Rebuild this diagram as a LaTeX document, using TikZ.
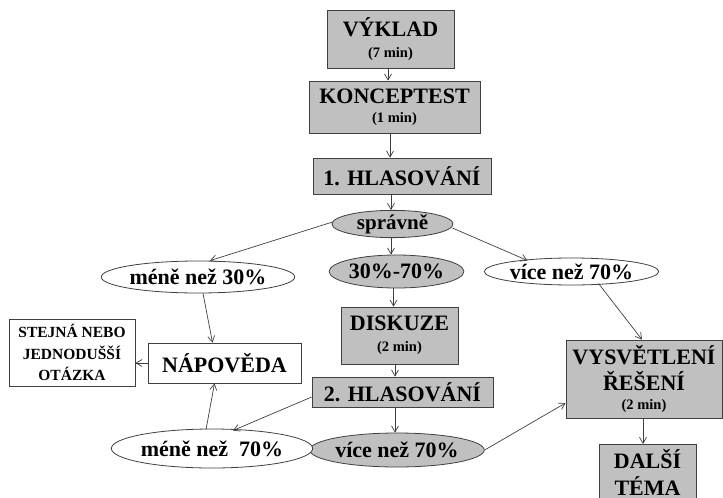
\documentclass[tikz,border=0pt]{standalone}
\usepackage{fontspec}
\setmainfont{Liberation Serif}
\usetikzlibrary{shapes.geometric,arrows.meta,calc}
\definecolor{boxgray}{HTML}{C0C0C0}
\definecolor{linegray}{HTML}{404040}
\newcommand{\bigt}{\fontsize{22}{26}\selectfont}
\newcommand{\smallt}{\fontsize{14.5}{16}\selectfont}
\newcommand{\midt}{\fontsize{15.5}{21.5}\selectfont}
\tikzset{
  gbox/.style={draw=linegray, fill=boxgray, rectangle, inner sep=0pt, align=center, line width=0.8pt, font=\bfseries\bigt},
  wbox/.style={draw=linegray, fill=white, rectangle, inner sep=0pt, align=center, line width=0.8pt, font=\bfseries\bigt},
  gell/.style={draw=linegray, fill=boxgray, ellipse, inner sep=0pt, line width=0.8pt, font=\bfseries\bigt},
  well/.style={draw=linegray, fill=white, ellipse, inner sep=0pt, line width=0.8pt, font=\bfseries\bigt},
  plaintext/.style={inner sep=0pt, align=center, font=\bfseries\bigt},
  arr/.style={draw=linegray, line width=0.7pt, -{Straight Barb[length=6pt,width=7pt]}},
}
\begin{document}
\begin{tikzpicture}[x=1pt,y=-1pt]
\clip (0,0) rectangle (723,498);
\useasboundingbox (0,0) rectangle (723,498);
\fill[white] (0,0) rectangle (723,498);

\node[gbox, minimum width=127pt, minimum height=58pt] (vyk) at (390.5,39) {VÝKLAD\\[-5pt]\smallt (7 min)};
\node[gbox, minimum width=171pt, minimum height=52pt] (kon) at (394.5,107) {KONCEPTEST\\[-7pt]\smallt (1 min)};
\node[gbox, minimum width=178pt, minimum height=36pt] (hl1) at (402,176) {1. HLASOVÁNÍ};
\node[gell, minimum width=121pt, minimum height=23pt, font=\bfseries\fontsize{21}{24}\selectfont] (spr) at (392.5,224) {správně};
\node[gell, minimum width=131pt, minimum height=33pt] (m3070) at (396.5,271.5) {30\%-70\%};
\node[gbox, minimum width=117pt, minimum height=57pt] (dis) at (399.5,335.5) {DISKUZE\\[-5pt]\smallt (2 min)};
\node[gbox, minimum width=181pt, minimum height=30pt] (hl2) at (402.5,392) {2. HLASOVÁNÍ};
\node[gell, minimum width=166pt, minimum height=34pt] (v70g) at (397,450) {více než 70\%};

\node[well, minimum width=170pt, minimum height=32pt] (m30) at (198,277) {méně než 30\%};
\node[wbox, minimum width=126pt, minimum height=67pt, font=\bfseries\midt] (stej) at (72,352.5) {STEJNÁ NEBO\\JEDNODUŠŠÍ\\OTÁZKA};
\node[wbox, minimum width=153pt, minimum height=40pt] (nap) at (224.5,363) {NÁPOVĚDA};
\node[well, minimum width=172pt, minimum height=39pt] (m70) at (212,448.5) {méně než~~70\%};

\node[well, minimum width=157pt, minimum height=27pt] (v70w) at (571.5,271.5) {více než 70\%};
\node[gbox, minimum width=156pt, minimum height=78pt] (vys) at (644,379) {VYSVĚTLENÍ\\ŘEŠENÍ\\[-7pt]\smallt (2 min)};
\node[gbox, minimum width=97pt, minimum height=70pt, anchor=north] (dal) at (647.5,444) {};
\node[plaintext] (dalt) at (647.5,472) {DALŠÍ\\[1pt]TÉMA};

% vertical chain
\draw[arr] ($(vyk.south)+(-2.5,0)$) -- ($(kon.north)+(-6.5,0)$);
\draw[arr] ($(kon.south)+(-4.5,0)$) -- ($(hl1.north)+(-12,0)$);
\draw[arr] ($(hl1.south)+(-11,0)$) -- ($(spr.north)+(-1.5,0)$);
\draw[arr] ($(spr.south)+(-1.5,0)$) -- ($(m3070.north)+(-5.5,0)$);
\draw[arr] ($(m3070.south)+(-3,0)$) -- ($(dis.north)+(-6,0)$);
\draw[arr] ($(dis.south)+(-4.5,0)$) -- ($(hl2.north)+(-7.5,0)$);
\draw[arr] ($(hl2.south)+(-7.5,0)$) -- ($(v70g.north)+(-2,0)$);
\draw[arr] ($(vys.south)+(-1,0)$) -- ($(dal.north)+(-4.5,0)$);

% branches
\draw[arr] ($(spr.west)+(1,-2)$) -- ($(m30.north)+(12,0)$);
\draw[arr] ($(spr.east)+(-1,4)$) -- ($(v70w.center)+(-44,-11)$);
\draw[arr] ($(m30.south)+(5,0)$) -- ($(nap.north)+(-12,0)$);
\draw[arr] (nap.west) -- (nap.west -| stej.east);
\draw[arr] ($(m70.north)+(-6,1)$) -- ($(nap.south)+(-10,0)$);
\draw[arr] ($(hl2.west)+(0,5)$) -- ($(m70.center)+(21,-18)$);
\draw[arr] (v70g.east) -- ($(vys.west)+(0,24)$);
\draw[arr] ($(v70w.center)+(27,12)$) -- ($(vys.north)+(-2,0)$);
\end{tikzpicture}
\end{document}
